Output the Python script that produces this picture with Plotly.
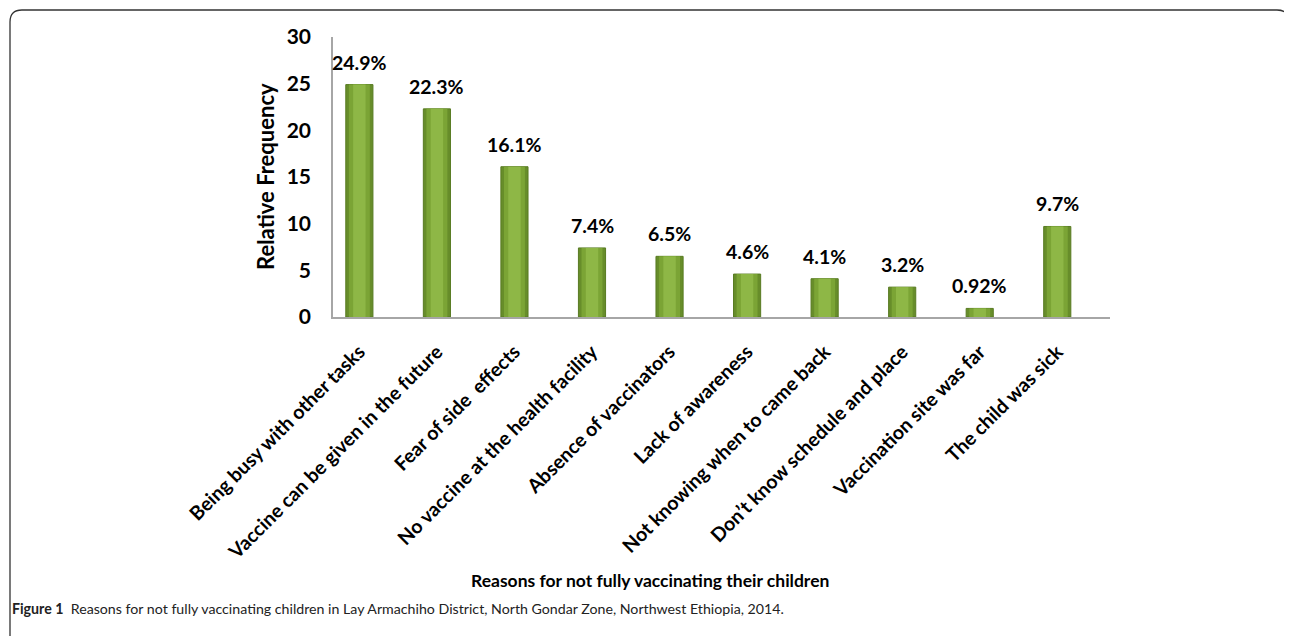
import plotly.graph_objects as go

categories = [
    "Being busy with other tasks",
    "Vaccine can be given in the future",
    "Fear of side\u00a0 effects",
    "No vaccine at the health facility",
    "Absence of vaccinators",
    "Lack of awareness",
    "Not knowing when to came back",
    "Don\u2019t know schedule and place",
    "Vaccination site was far",
    "The child was sick",
]
values = [24.9, 22.3, 16.1, 7.4, 6.5, 4.6, 4.1, 3.2, 0.92, 9.7]
labels = ["24.9%", "22.3%", "16.1%", "7.4%", "6.5%", "4.6%", "4.1%", "3.2%", "0.92%", "9.7%"]
y_ticks = [0, 5, 10, 15, 20, 25, 30]

OFF = 8  # page body margin
W, H = 1292 - OFF, 636 - OFF
L, R, T, B = 333, 1110, 37, 317  # plot area in reference pixels


def px(x):
    return (x - L) / (R - L)


def py(y):
    return (B - y) / (B - T)


idx = list(range(len(categories)))
fig = go.Figure()
fig.add_trace(go.Bar(
    x=idx, y=values, width=0.35,
    marker=dict(color="#678D2A", line=dict(color="#587B22", width=1)),
    hoverinfo="skip", showlegend=False,
))
fig.add_trace(go.Bar(
    x=idx, y=values, width=0.27,
    marker=dict(color="#7BA435", line=dict(width=0)),
    hoverinfo="skip", showlegend=False,
))
fig.add_trace(go.Bar(
    x=idx, y=values, width=0.16,
    marker=dict(color="#8EB746", line=dict(width=0)),
    hoverinfo="skip", showlegend=False,
))

for i, (v, t) in enumerate(zip(values, labels)):
    fig.add_annotation(x=i, y=v, text=t, showarrow=False, yanchor="bottom", yshift=9,
                       font=dict(family="Lato", size=19.5, color="black", weight="bold"))

# axis titles / caption
fig.add_annotation(xref="paper", yref="paper", x=px(650), y=py(580), text="<b>Reasons for not fully vaccinating their children</b>",
                   showarrow=False, xanchor="center", yanchor="middle", font=dict(family="Lato", size=17.5, color="black"))
fig.add_annotation(xref="paper", yref="paper", x=px(265), y=py(177), text="<b>Relative Frequency</b>", textangle=-90,
                   showarrow=False, xanchor="center", yanchor="middle", font=dict(family="Lato", size=22, color="black"))
fig.add_annotation(xref="paper", yref="paper", x=px(10), y=py(608),
                   text="<b>Figure 1</b>  Reasons for not fully vaccinating children in Lay Armachiho District, North Gondar Zone, Northwest Ethiopia, 2014.",
                   showarrow=False, xanchor="left", yanchor="middle", font=dict(family="Lato", size=14.2, color="#222"))

# rounded frame
x0, y0, x1, y1, r = 10, 10, 1289, 660, 12
path = (f"M {px(x0)},{py(y1)} L {px(x0)},{py(y0 + r)} "
        f"Q {px(x0)},{py(y0)} {px(x0 + r)},{py(y0)} "
        f"L {px(x1 - r)},{py(y0)} Q {px(x1)},{py(y0)} {px(x1)},{py(y0 + r)} "
        f"L {px(x1)},{py(y1)}")
fig.add_shape(type="path", xref="paper", yref="paper", path=path, line=dict(color="#333", width=1.3))

fig.update_layout(
    width=W, height=H,
    margin=dict(l=L - OFF, r=1292 - R, t=T - OFF, b=636 - B),
    paper_bgcolor="white", plot_bgcolor="white",
    barmode="overlay", showlegend=False,
    font=dict(family="Lato", color="black"),
)
fig.update_xaxes(
    range=[-0.34, 9.68], tickmode="array", tickvals=idx, ticktext=categories,
    tickangle=-45, tickfont=dict(family="Lato", size=19.5, weight="bold", color="black"),
    showline=True, linecolor="#A6A6A6", linewidth=1.5, showgrid=False, ticks="", zeroline=False,
    ticklabelstandoff=14,
)
fig.update_yaxes(
    range=[0, 30], tickmode="array", tickvals=y_ticks,
    tickfont=dict(family="Lato", size=21, weight="bold", color="black"),
    showline=True, linecolor="#A6A6A6", linewidth=1.5, showgrid=False, ticks="", zeroline=False,
    ticklabelstandoff=16,
)

fig.write_html("out.html")
